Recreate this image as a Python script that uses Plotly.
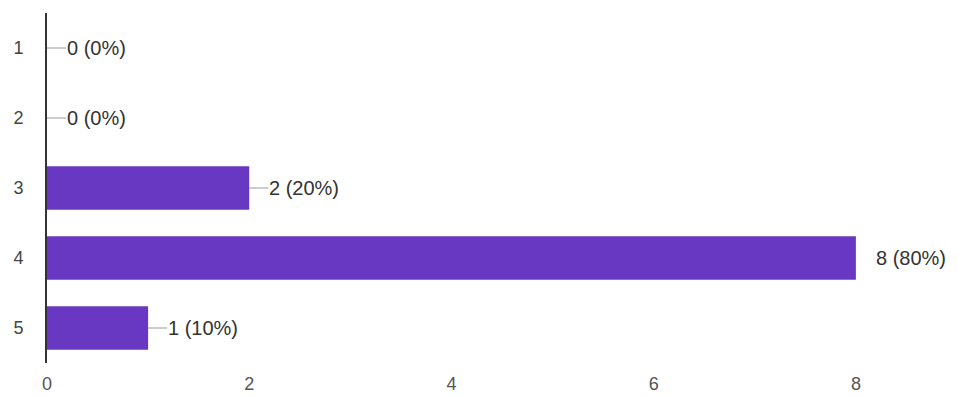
import plotly.graph_objects as go

categories = ["1", "2", "3", "4", "5"]
counts = [0, 0, 2, 8, 1]
labels = ["0 (0%)", "0 (0%)", "2 (20%)", "8 (80%)", "1 (10%)"]
x_ticks = [0, 2, 4, 6, 8]

BAR = "#6838c2"
FONT = "Liberation Sans, Arial, sans-serif"

fig = go.Figure()
fig.add_trace(go.Bar(
    x=counts, y=categories, orientation="h",
    marker=dict(color=BAR, line=dict(width=0)),
    width=0.62, hoverinfo="skip",
))

annotations = []
for i, (c, lab) in enumerate(zip(counts, labels)):
    if c == max(counts):
        annotations.append(dict(
            x=c, y=i, xref="x", yref="y", text=lab, showarrow=False,
            xanchor="left", xshift=18, font=dict(family=FONT, size=20, color="#333"),
        ))
    else:
        annotations.append(dict(
            x=c, y=i, xref="x", yref="y", text=lab, showarrow=True,
            arrowhead=0, arrowwidth=1, arrowcolor="#999", ax=19, ay=0,
            xanchor="left", standoff=0, startstandoff=0,
            font=dict(family=FONT, size=20, color="#333"),
            borderpad=0,
        ))

fig.update_layout(
    width=957, height=397,
    margin=dict(l=47, r=0, t=13, b=34),
    paper_bgcolor="white", plot_bgcolor="white",
    showlegend=False,
    annotations=annotations,
    font=dict(family=FONT, size=18, color="#444"),
    xaxis=dict(
        range=[0, 9], tickvals=x_ticks, showgrid=False, zeroline=False,
        showline=False, ticks="outside", ticklen=4, tickcolor="rgba(0,0,0,0)",
        tickfont=dict(size=18, color="#555"), automargin=False,
    ),
    yaxis=dict(
        type="category", categoryorder="array", categoryarray=categories,
        autorange="reversed", showgrid=False, zeroline=False,
        showline=True, linecolor="#333", linewidth=2,
        ticks="outside", ticklen=18, tickcolor="rgba(0,0,0,0)",
        tickfont=dict(size=18, color="#444"), automargin=False,
    ),
)

fig.write_html(
    "out.html",
    config={"displayModeBar": False},
    post_script="document.body.style.margin='0';document.body.style.overflow='hidden';",
)
